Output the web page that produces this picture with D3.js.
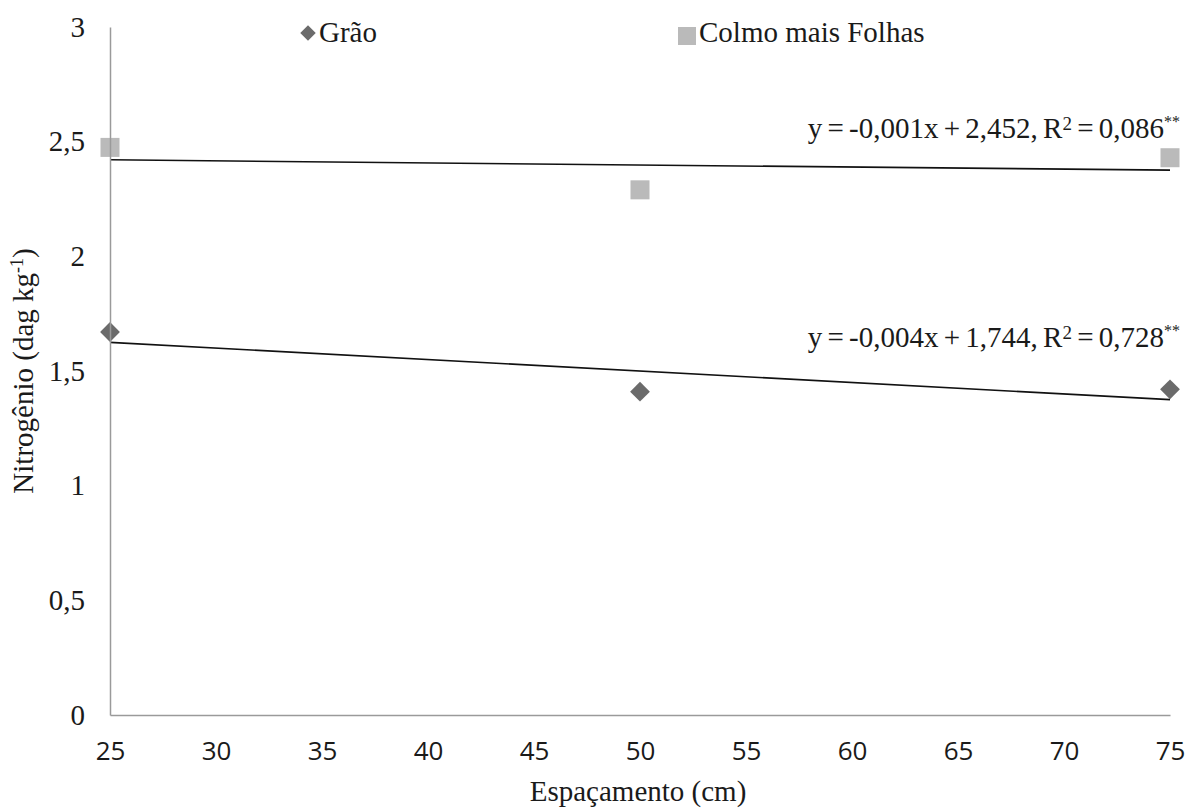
<!DOCTYPE html>
<html>
<head>
<meta charset="utf-8">
<script src="https://cdn.jsdelivr.net/npm/d3@7"></script>
<style>
  body { margin: 0; background: #fff; }
  svg text { fill: #1a1a1a; }
</style>
</head>
<body>
<div id="chart"></div>
<script>
let espacamento = [25, 50, 75];
let grao = [1.67, 1.41, 1.42];
let colmo = [2.475, 2.29, 2.43];
let xTicks = [25, 30, 35, 40, 45, 50, 55, 60, 65, 70, 75];
let yTicks = [0, 0.5, 1, 1.5, 2, 2.5, 3];
let eqGrao = 'y = -0,004x + 1,744, R';
let eqGraoR2 = ' = 0,728';
let eqColmo = 'y = -0,001x + 2,452, R';
let eqColmoR2 = ' = 0,086';

let width = 1190,
    height = 808,
    margin = {left: 110, top: 27, right: 20, bottom: 93};

let serif = '"Liberation Serif", "Times New Roman", serif';
let sans = '"Open Sans", "DejaVu Sans", sans-serif';
let fs = '29px';

let svg = d3.select('#chart').append('svg')
    .attr('width', width)
    .attr('height', height);

let xScale = d3.scaleLinear()
    .domain([25, 75])
    .range([margin.left, width - margin.right]);

let yScale = d3.scaleLinear()
    .domain([0, 3])
    .range([height - margin.bottom, margin.top]);

// trend lines (least squares)
function fit(xs, ys) {
    let mx = d3.mean(xs), my = d3.mean(ys);
    let b = d3.sum(xs, (x, i) => (x - mx) * (ys[i] - my)) / d3.sum(xs, x => (x - mx) * (x - mx));
    return x => my + b * (x - mx);
}

let line = d3.line()
    .x(d => xScale(d[0]))
    .y(d => yScale(d[1]));

// points
let sq = 19, dm = 14;
svg.selectAll('.colmo')
    .data(espacamento.map((x, i) => [x, colmo[i]]))
    .join('rect')
    .attr('class', 'colmo')
    .attr('x', d => xScale(d[0]) - sq / 2)
    .attr('y', d => yScale(d[1]) - sq / 2)
    .attr('width', sq)
    .attr('height', sq)
    .attr('fill', '#bababa');

svg.selectAll('.grao')
    .data(espacamento.map((x, i) => [x, grao[i]]))
    .join('path')
    .attr('class', 'grao')
    .attr('d', d3.symbol(d3.symbolSquare, dm * dm))
    .attr('transform', d => `translate(${xScale(d[0])}, ${yScale(d[1])}) rotate(45)`)
    .attr('fill', '#6b6b6b');

[grao, colmo].forEach(series => {
    let f = fit(espacamento, series);
    svg.append('path')
        .datum([[25, f(25)], [75, f(75)]])
        .attr('d', line)
        .attr('fill', 'none')
        .attr('stroke', '#111')
        .attr('stroke-width', 1.6);
});

// axes
let xAxis = svg.append('g')
    .attr('transform', `translate(0, ${yScale(0)})`)
    .call(d3.axisBottom(xScale).tickValues(xTicks).tickSize(0).tickPadding(27));
xAxis.select('.domain').attr('stroke', '#9a9a9a').attr('stroke-width', 1.5);
xAxis.selectAll('text')
    .style('font-family', sans)
    .style('font-size', '26px')
    .attr('fill', '#1a1a1a');

let yAxis = svg.append('g')
    .attr('transform', `translate(${xScale(25)}, 0)`)
    .call(d3.axisLeft(yScale).tickValues(yTicks).tickSize(0).tickPadding(25)
        .tickFormat(d => String(d).replace('.', ',')));
yAxis.select('.domain').attr('stroke', '#9a9a9a').attr('stroke-width', 1.5);
yAxis.selectAll('text')
    .style('font-family', serif)
    .style('font-size', fs)
    .attr('fill', '#1a1a1a');

// legend
svg.append('path')
    .attr('d', d3.symbol(d3.symbolSquare, 11 * 11))
    .attr('transform', 'translate(308, 33) rotate(45)')
    .attr('fill', '#6b6b6b');
svg.append('text')
    .attr('x', 319).attr('y', 42)
    .style('font-family', serif).style('font-size', fs)
    .text('Grão');

svg.append('rect')
    .attr('x', 678).attr('y', 27).attr('width', 18).attr('height', 18)
    .attr('fill', '#bababa');
svg.append('text')
    .attr('x', 699).attr('y', 42)
    .style('font-family', serif).style('font-size', fs)
    .text('Colmo mais Folhas');

// equations
function equation(txt, r2, y) {
    let t = svg.append('text')
        .attr('x', 1180).attr('y', y)
        .attr('text-anchor', 'end')
        .style('font-family', serif).style('font-size', fs)
        .style('word-spacing', '-2px');
    t.append('tspan').text(txt);
    t.append('tspan').attr('dy', -8).style('font-size', '19px').text('2');
    t.append('tspan').attr('dy', 8).text(r2);
    t.append('tspan').attr('dy', -11).style('font-size', '16px').text('**');
}
equation(eqColmo, eqColmoR2, 138);
equation(eqGrao, eqGraoR2, 347);

// axis titles
svg.append('text')
    .attr('x', 638).attr('y', 801)
    .attr('text-anchor', 'middle')
    .style('font-family', serif).style('font-size', fs)
    .text('Espaçamento (cm)');

let yt = svg.append('text')
    .attr('transform', 'translate(33, 371) rotate(-90)')
    .attr('text-anchor', 'middle')
    .style('font-family', serif).style('font-size', fs);
yt.append('tspan').text('Nitrogênio (dag kg');
yt.append('tspan').attr('dy', -10).style('font-size', '18px').text('-1');
yt.append('tspan').attr('dy', 10).text(')');
</script>
</body>
</html>
